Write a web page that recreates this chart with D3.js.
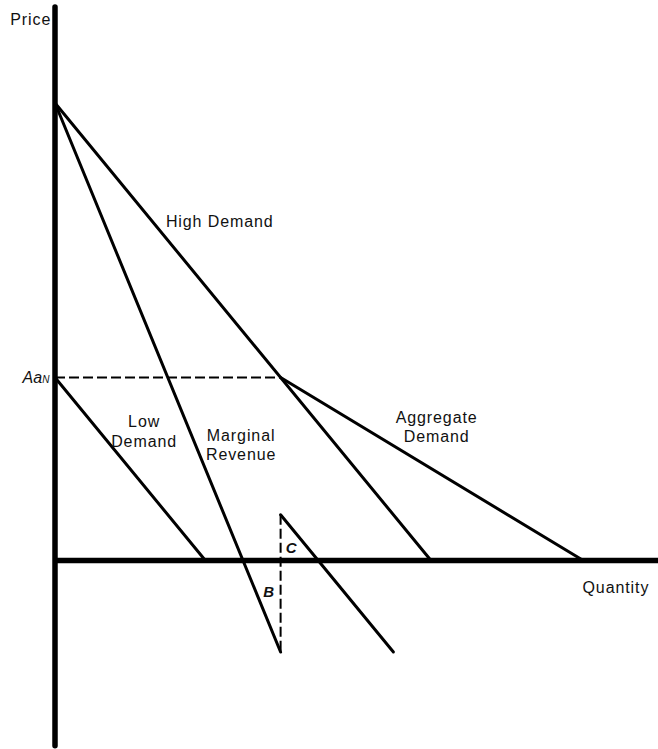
<!DOCTYPE html>
<html>
<head>
<meta charset="utf-8">
<script src="https://cdn.jsdelivr.net/npm/d3@7"></script>
<style>
  body { margin: 0; background: #fff; }
  text { font-family: "Liberation Sans", Arial, sans-serif; font-size: 16px; letter-spacing: 0.9px; fill: #111; }
</style>
</head>
<body>
<div id="chart"></div>
<script>
// curves in (quantity, price) units
const highDemand = [[0, 10], [10, 0]]
const lowDemand = [[0, 4], [4, 0]]
const marginalRevenue = [[0, 10], [6, -2]]
const aggregateDemand = [[6, 4], [14.05, 0]]
const aggregateMR = [[6, 1], [9, -2]]

// dashed guides
const priceGuide = [[0, 4], [6, 4]]
const gapGuide = [[6, 1], [6, -2]]

// axis extents
const qRange = [0, 16.05]
const pRange = [-4.05, 12.1]

// labels: text, q, p, anchor
const labels = [
    ['Price', -0.1, 11.7, 'end'],
    ['High Demand', 2.95, 7.29, 'start'],
    ['Low', 2.37, 2.92, 'middle'],
    ['Demand', 2.37, 2.49, 'middle'],
    ['Marginal', 4.95, 2.62, 'middle'],
    ['Revenue', 4.95, 2.2, 'middle'],
    ['Aggregate', 10.15, 3.0, 'middle'],
    ['Demand', 10.15, 2.6, 'middle'],
    ['Quantity', 14.03, -0.71, 'start']
]
const areaLabels = [['C', 6.14, 0.17], ['B', 5.54, -0.79]]

const width = 658, height = 749

const x = d3.scaleLinear().domain([0, 10]).range([55, 431])
const y = d3.scaleLinear().domain([0, 10]).range([560.5, 103])

let svg = d3.select('#chart').append('svg')
    .attr('width', width)
    .attr('height', height)

let line = d3.line().x(d => x(d[0])).y(d => y(d[1]))

// axes
svg.append('path')
    .attr('d', line([[0, pRange[1]], [0, pRange[0]]]))
    .attr('stroke', '#000').attr('stroke-width', 5.5).attr('stroke-linecap', 'round').attr('fill', 'none')
svg.append('path')
    .attr('d', line([[0, 0], [qRange[1], 0]]))
    .attr('stroke', '#000').attr('stroke-width', 5.5).attr('fill', 'none')

// dashed guides
for (let g of [priceGuide, gapGuide]) {
    svg.append('path')
        .attr('d', line(g))
        .attr('stroke', '#000').attr('stroke-width', 2).attr('stroke-dasharray', '10,4').attr('fill', 'none')
}

// curves
for (let c of [highDemand, lowDemand, marginalRevenue, aggregateDemand, aggregateMR]) {
    svg.append('path')
        .attr('d', line(c))
        .attr('stroke', '#000').attr('stroke-width', 3).attr('stroke-linecap', 'round').attr('fill', 'none')
}

// text labels
for (let l of labels) {
    svg.append('text')
        .attr('x', x(l[1]))
        .attr('y', y(l[2]))
        .attr('text-anchor', l[3])
        .text(l[0])
}

// A a N label on the price axis
let aan = svg.append('text')
    .attr('x', x(-0.15))
    .attr('y', y(3.89))
    .attr('text-anchor', 'end')
    .style('font-style', 'italic')
    .style('letter-spacing', '0px')
aan.append('tspan').text('Aa')
aan.append('tspan').style('font-size', '10px').text('N')

for (let a of areaLabels) {
    svg.append('text')
        .attr('x', x(a[1]))
        .attr('y', y(a[2]))
        .style('font-style', 'italic')
        .style('font-weight', 'bold')
        .style('font-size', '15px')
        .text(a[0])
}
</script>
</body>
</html>
